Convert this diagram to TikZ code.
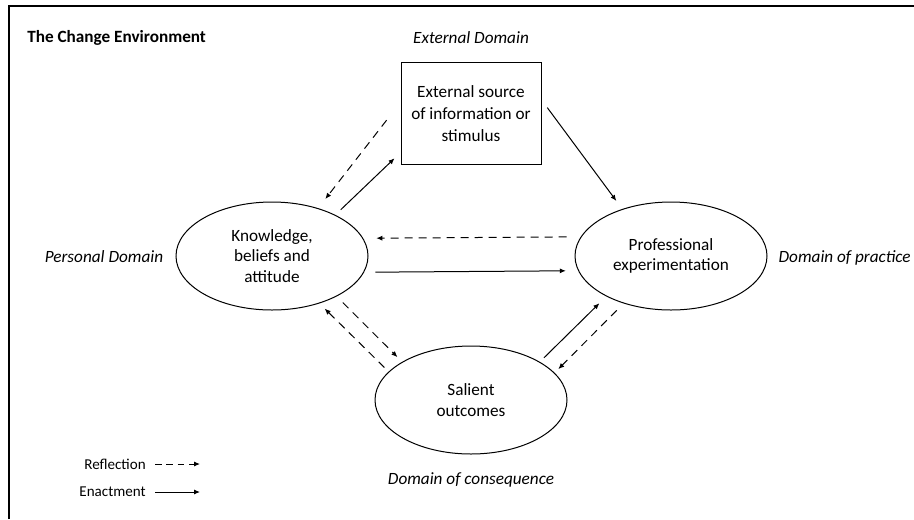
\documentclass[tikz,border=0pt]{standalone}
\usepackage{fontspec}
\setmainfont{Carlito}
\usetikzlibrary{arrows.meta,shapes.geometric}

\tikzset{
	stage/.style={draw, ellipse, line width=0.75pt, minimum width=144pt, minimum height=81pt,
		inner sep=0pt, align=center, font=\fontsize{12.9}{15.5}\selectfont},
	source/.style={draw, rectangle, line width=0.75pt, minimum width=105pt, minimum height=77pt,
		inner sep=0pt, align=center, font=\fontsize{12.9}{16.3}\selectfont},
	domainlabel/.style={inner sep=0pt, font=\fontsize{12.9}{15}\selectfont\itshape},
	legendtext/.style={inner sep=0pt, anchor=east, font=\fontsize{11.3}{13}\selectfont},
	enact/.style={line width=0.75pt, -{Latex[length=4.5pt,width=3.8pt]}},
	reflect/.style={enact, dash pattern=on 6pt off 4.5pt}
}

\begin{document}
\begin{tikzpicture}[x=0.75pt, y=-0.75pt]
		\useasboundingbox (0,0) rectangle (914,519);

		\draw [line width=1.5pt, line join=miter] (9,519) -- (9,6) -- (914,6);

		\node (title) [anchor=west, inner sep=0pt, font=\fontsize{12.9}{15}\selectfont\bfseries] at (27,38) {The Change Environment};

		\node (extdom) [domainlabel] at (471,38) {External Domain};
		\node (perdom) [domainlabel] at (104,257) {Personal Domain};
		\node (pracdom) [domainlabel, anchor=east] at (911,258) {Domain of practice};
		\node (consdom) [domainlabel] at (471,480) {Domain of consequence};

		\node (src) [source] at (471,113.5) {External source\\of information or\\stimulus};

		\node (know) [stage] at (272,256) {Knowledge,\\beliefs and\\attitude};

		\node (prof) [stage] at (671,256) {Professional\\experimentation};

		\node (sal) [stage] at (471,400) {Salient\\outcomes};

		\draw [reflect, shorten <=17pt, shorten >=8.7pt] (src.171.5) -- (know.46.9);
		\draw [enact, shorten <=5.6pt, shorten >=6.2pt] (know.33.1) -- (src.209);
		\draw [enact, shorten <=7.3pt, shorten >=7.5pt] (src.11.9) -- (prof.136.4);

		\draw [reflect, shorten <=10.5pt, shorten >=9.8pt] (prof.168.1) -- (know.11.9);
		\draw [enact, shorten <=8.5pt, shorten >=9.2pt] (know.350.1) -- (prof.189.9);

		\draw [reflect, shorten <=6.5pt, shorten >=5pt] (know.328.5) -- (sal.151.4);
		\draw [reflect, shorten <=4.4pt, shorten >=5.5pt] (sal.161.2) -- (know.315.6);

		\draw [enact, shorten <=4.3pt, shorten >=7.3pt] (sal.29.7) -- (prof.212.2);
		\draw [reflect, shorten <=7.3pt, shorten >=3.9pt] (prof.225) -- (sal.18.35);

		\node (refl) [legendtext] at (146,464) {Reflection};
		\node (enactlbl) [legendtext] at (146,492) {Enactment};
		\coordinate (reflend) at (200,464);
		\coordinate (enactend) at (200,492);

		\draw [reflect, dash pattern=on 5pt off 3.5pt] ([xshift=6.75pt]refl.east) -- (reflend);
		\draw [enact] ([xshift=6.75pt]enactlbl.east) -- (enactend);
	\end{tikzpicture}
\end{document}
